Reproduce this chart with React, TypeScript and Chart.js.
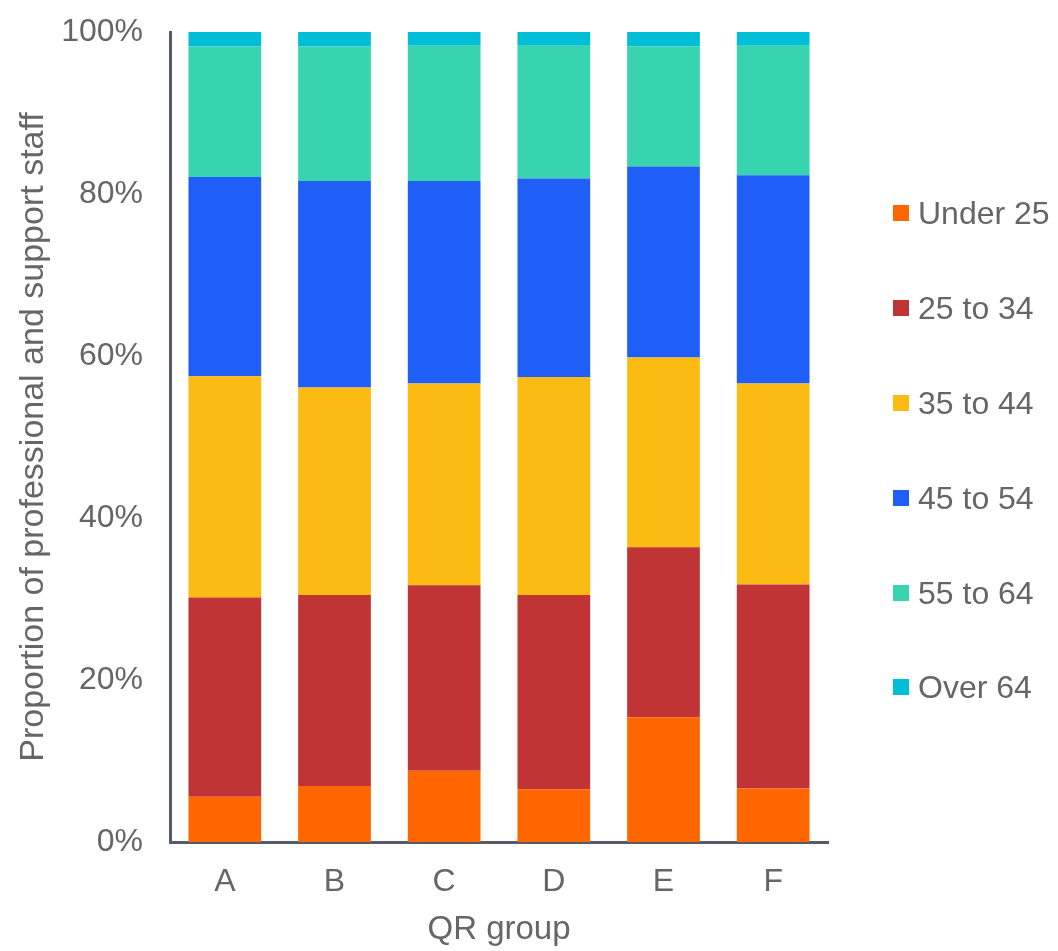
import React, { useEffect, useRef } from "react";
import { Chart, registerables } from "chart.js";

Chart.register(...registerables);

// Share of professional and support staff by age band, per QR group (%)
const categories = ["A", "B", "C", "D", "E", "F"];
const under25 = [5.6, 6.9, 8.8, 6.5, 15.4, 6.6];
const age25to34 = [24.6, 23.6, 22.9, 24.0, 21.0, 25.2];
const age35to44 = [27.3, 25.6, 24.9, 26.9, 23.4, 24.8];
const age45to54 = [24.6, 25.5, 25.0, 24.5, 23.6, 25.7];
const age55to64 = [16.1, 16.6, 16.7, 16.4, 14.8, 16.0];
const over64 = [1.8, 1.8, 1.7, 1.7, 1.8, 1.7];

const seriesLabels = ["Under 25", "25 to 34", "35 to 44", "45 to 54", "55 to 64", "Over 64"];
const seriesValues = [under25, age25to34, age35to44, age45to54, age55to64, over64];
const seriesColors = ["#FF6600", "#C13435", "#FBBB13", "#1F5EF7", "#37D4AF", "#00BED6"];

const yTicks = [0, 20, 40, 60, 80, 100];

const FONT = "'Liberation Sans', Arial, Helvetica, sans-serif";
const TEXT = "#666666";
const AXIS = "#585a68";

export default function App() {
  const canvasRef = useRef<HTMLCanvasElement | null>(null);

  useEffect(() => {
    if (!canvasRef.current) return;
    Chart.defaults.font.family = FONT;
    const chart = new Chart(canvasRef.current, {
      type: "bar",
      data: {
        labels: categories,
        datasets: seriesLabels.map((label, i) => ({
          label,
          data: seriesValues[i],
          backgroundColor: seriesColors[i],
          borderWidth: 0,
          categoryPercentage: 1,
          barPercentage: 0.663,
        })),
      },
      options: {
        responsive: false,
        animation: false,
        events: [],
        layout: { padding: { top: 32, right: 230, bottom: 0, left: 0 } },
        plugins: {
          legend: { display: false },
          tooltip: { enabled: false },
        },
        scales: {
          x: {
            stacked: true,
            grid: { display: false, drawTicks: false },
            border: { display: true, color: AXIS, width: 3 },
            ticks: { color: TEXT, font: { size: 32 }, padding: 21 },
            title: {
              display: true,
              text: "QR group",
              color: TEXT,
              font: { size: 33 },
              padding: { top: 0, bottom: 1 },
            },
            afterFit: (scale: any) => {
              scale.height = 109;
            },
          },
          y: {
            stacked: true,
            min: 0,
            max: 100,
            afterBuildTicks: (scale: any) => {
              scale.ticks = yTicks.map((v) => ({ value: v }));
            },
            grid: { display: false, drawTicks: false },
            border: { display: true, color: AXIS, width: 3 },
            ticks: {
              color: TEXT,
              font: { size: 32 },
              padding: 27,
              callback: (v: any) => `${v}%`,
            },
            title: {
              display: true,
              text: "Proportion of professional and support staff",
              color: TEXT,
              font: { size: 34 },
              padding: { top: 13, bottom: 0 },
            },
            afterFit: (scale: any) => {
              scale.width = 170;
              // the plot spans the full padded height; labels may overhang
              scale.paddingTop = 0;
              scale.paddingBottom = 0;
            },
          },
        },
      },
    });
    return () => chart.destroy();
  }, []);

  return (
    <div
      style={{
        position: "absolute",
        left: 0,
        top: 0,
        width: 1058,
        height: 951,
        background: "#ffffff",
        fontFamily: FONT,
      }}
    >
      <canvas ref={canvasRef} width={1058} height={951} style={{ display: "block" }} />
      <div
        style={{
          position: "absolute",
          left: 893,
          top: 166,
          display: "flex",
          flexDirection: "column",
        }}
      >
        {seriesLabels.map((label, i) => (
          <div
            key={label}
            style={{ height: 94.8, display: "flex", alignItems: "center", whiteSpace: "nowrap" }}
          >
            <span
              style={{
                width: 16,
                height: 16,
                background: seriesColors[i],
                display: "inline-block",
                marginRight: 9,
                flex: "none",
              }}
            />
            <span style={{ fontSize: 32, color: TEXT, lineHeight: 1 }}>{label}</span>
          </div>
        ))}
      </div>
    </div>
  );
}
